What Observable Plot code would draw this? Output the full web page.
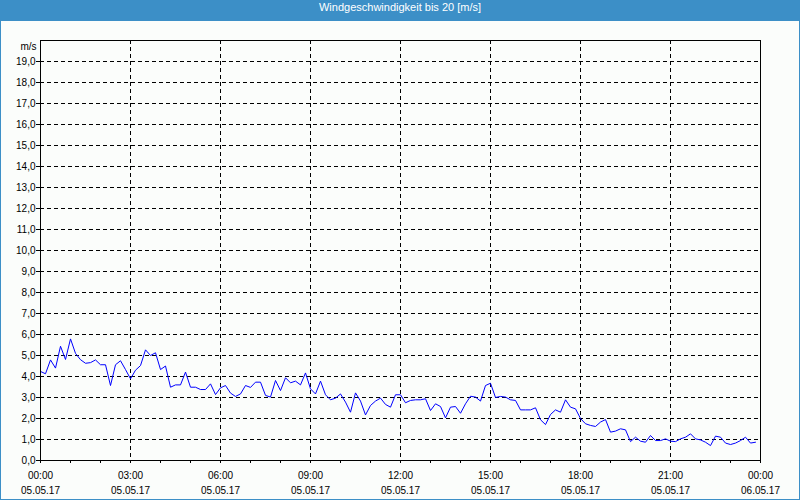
<!DOCTYPE html>
<html><head><meta charset="utf-8">
<script src="https://cdn.jsdelivr.net/npm/d3@7"></script>
<script src="https://cdn.jsdelivr.net/npm/@observablehq/plot@0.6"></script>
<style>
html,body{margin:0;padding:0;background:#fff;}
#wrap{position:relative;width:800px;height:500px;box-sizing:border-box;border:1px solid #3c8fc7;background:#fbfdfb;overflow:hidden;}
#title{height:20px;line-height:20px;background:#3c8fc7;color:#fff;text-align:center;font:11px "Liberation Sans",Arial,sans-serif;}
#chart svg{display:block;}
</style></head><body>
<div id="wrap"><div id="title">Windgeschwindigkeit bis 20 [m/s]</div><div id="chart"></div></div>
<script>
const chartTitle = "Windgeschwindigkeit bis 20 [m/s]";
const unitLabel = "m/s";
const startTime = "2017-05-05T00:00:00Z";
const endTime = "2017-05-06T00:00:00Z";
const sampleMinutes = 10;
// wind speed in m/s, one value every 10 minutes from 00:00
const speeds = [
  4.24, 4.13, 4.79, 4.40, 5.44, 4.81, 5.79, 5.10, 4.80, 4.63,
  4.66, 4.79, 4.56, 4.56, 3.57, 4.56, 4.75, 4.33, 3.89, 4.30,
  4.52, 5.27, 5.00, 5.13, 4.33, 4.50, 3.49, 3.60, 3.60, 4.21,
  3.49, 3.49, 3.38, 3.38, 3.65, 3.14, 3.46, 3.57, 3.21, 3.05,
  3.17, 3.57, 3.48, 3.73, 3.73, 3.10, 3.02, 3.81, 3.33, 3.94,
  3.70, 3.78, 3.60, 4.17, 3.41, 3.17, 3.78, 3.13, 2.89, 2.97,
  3.17, 2.78, 2.30, 3.22, 2.83, 2.17, 2.62, 2.83, 2.97, 2.67,
  2.54, 3.13, 3.13, 2.75, 2.86, 2.89, 2.89, 2.94, 2.38, 2.70,
  2.57, 2.03, 2.54, 2.57, 2.25, 2.70, 3.06, 3.02, 2.83, 3.57,
  3.68, 3.00, 3.05, 3.02, 2.89, 2.86, 2.41, 2.41, 2.41, 2.51,
  1.94, 1.71, 2.19, 2.41, 2.30, 2.89, 2.54, 2.46, 2.00, 1.75,
  1.67, 1.62, 1.83, 1.95, 1.35, 1.40, 1.51, 1.46, 0.90, 1.11,
  0.92, 0.87, 1.19, 0.95, 0.95, 1.03, 0.92, 0.90, 1.03, 1.11,
  1.27, 1.03, 0.98, 0.87, 0.71, 1.16, 1.11, 0.83, 0.76, 0.83,
  0.95, 1.11, 0.83, 0.87
];
const yTicks = [0,1,2,3,4,5,6,7,8,9,10,11,12,13,14,15,16,17,18,19];
const yGrid = [1,2,3,4,5,6,7,8,9,10,11,12,13,14,15,16,17,18,19];
const hourTicks = [0,1,2,3,4,5,6,7,8,9,10,11,12,13,14,15,16,17,18,19,20,21,22,23,24];
const labelHours = [0,3,6,9,12,15,18,21,24];
const gridHours = [3,6,9,12,15,18,21];

const t0 = new Date(startTime);
const t1 = new Date(endTime);
const atHour = h => new Date(t0.getTime() + h * 3600e3);
const data = speeds.map((v, i) => ({t: new Date(t0.getTime() + i * sampleMinutes * 60e3), v}));
const pad = n => String(n).padStart(2, "0");
const fmtX = d => `${pad(d.getUTCHours())}:${pad(d.getUTCMinutes())}\n${pad(d.getUTCDate())}.${pad(d.getUTCMonth()+1)}.${String(d.getUTCFullYear()).slice(2)}`;

document.getElementById("title").textContent = chartTitle;

const chart = Plot.plot({
  width: 798,
  height: 478,
  marginLeft: 39,
  marginRight: 39,
  marginTop: 19,
  marginBottom: 39,
  style: {background: "transparent", fontFamily: "'Liberation Sans', Arial, sans-serif", fontSize: "10px", color: "#000"},
  x: {type: "utc", domain: [t0, t1]},
  y: {domain: [0, 20]},
  marks: [
    Plot.ruleY(yGrid, {stroke: "#000", strokeWidth: 1, strokeDasharray: "4,3"}),
    Plot.ruleX(gridHours.map(atHour), {stroke: "#000", strokeWidth: 1, strokeDasharray: "4,3"}),
    Plot.axisY({ticks: yTicks, tickFormat: d => d.toFixed(1).replace(".", ","), tickSize: 4, tickPadding: 1, fontSize: 10, label: null, stroke: "#000"}),
    Plot.axisX({ticks: hourTicks.map(atHour), tickSize: 3, tickFormat: () => "", label: null}),
    Plot.axisX({ticks: labelHours.map(atHour), tickSize: 0, tickPadding: 8, tickFormat: fmtX, lineHeight: 1.5, fontSize: 10, label: null}),
    Plot.text([unitLabel], {frameAnchor: "top-left", textAnchor: "end", lineAnchor: "middle", dx: -4, dy: 6, fontSize: 10}),
    Plot.line(data, {x: "t", y: "v", stroke: "#0000ff", strokeWidth: 1}),
    Plot.frame({stroke: "#000"})
  ]
});
document.getElementById("chart").appendChild(chart);
</script>
</body></html>
